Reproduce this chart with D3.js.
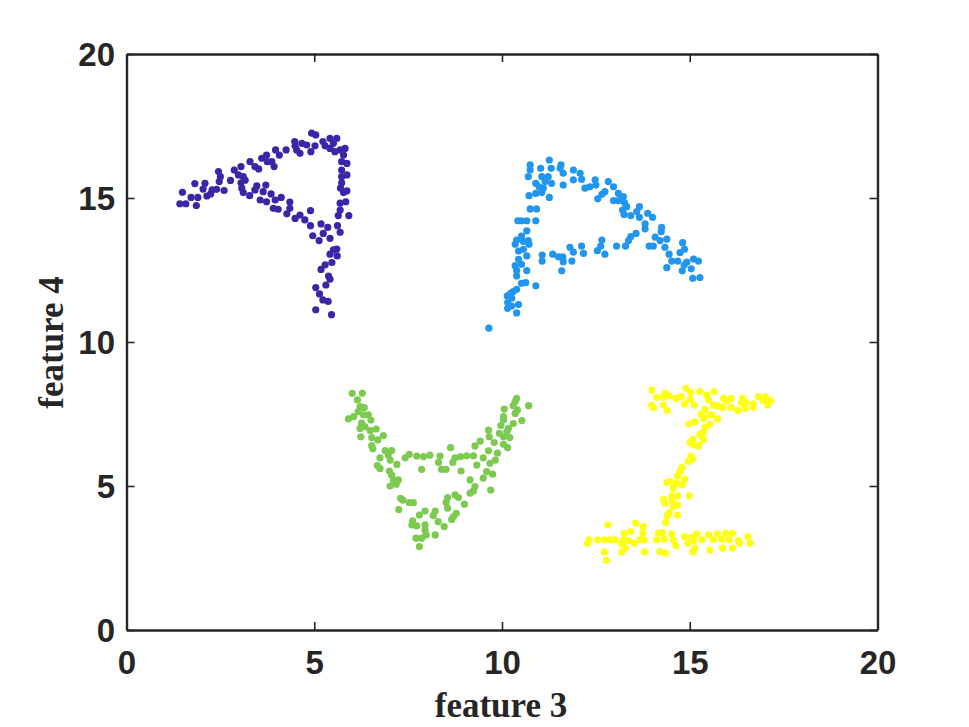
<!DOCTYPE html>
<html><head><meta charset="utf-8">
<script src="https://cdn.jsdelivr.net/npm/d3@7"></script>
<style>html,body{margin:0;padding:0;background:#fff;overflow:hidden}svg{display:block}</style>
</head><body><svg id="c" width="969" height="727"></svg>
<script>
const tickValues = [0,5,10,15,20];
const xLabel = "feature 3";
const yLabel = "feature 4";
const seriesColors = ["#3C25A7","#2196EE","#7CCB50","#FFFF14"];
const clusterA = [[1.49,15.2],[1.42,14.8],[1.58,14.8],[1.72,15.02],[1.9,15.02],[1.86,14.74],[1.82,15.5],[2.04,15.31],[2.09,15.51],[2.14,15.07],[2.24,15.14],[2.28,15.28],[2.4,15.3],[2.47,15.57],[2.45,15.92],[2.6,15.26],[2.5,15.74],[2.77,15.61],[2.87,15.97],[3.05,16.09],[2.98,15.8],[3.11,15.74],[3.16,15.62],[3.05,15.53],[3.07,15.34],[3.11,15.19],[3.28,15.08],[3.29,16.26],[3.42,16.09],[3.52,16.01],[3.6,16.38],[3.73,16.49],[3.75,16.26],[3.87,16.26],[3.93,16.09],[3.97,16.67],[4.07,16.49],[4.25,16.67],[4.48,16.96],[4.49,16.81],[4.67,16.9],[4.53,16.67],[4.62,16.55],[4.8,16.84],[4.91,16.61],[5.02,16.81],[4.93,17.25],[5.04,17.19],[5.23,16.96],[5.29,16.81],[5.42,17.07],[5.6,17.07],[5.51,16.9],[5.42,16.72],[5.55,16.61],[5.69,16.67],[5.82,16.72],[5.78,16.49],[5.73,16.26],[5.87,16.2],[5.73,15.97],[5.87,15.8],[5.73,15.74],[5.73,15.53],[5.7,15.34],[5.87,15.25],[5.78,15.19],[5.84,14.87],[5.69,14.82],[5.69,14.58],[5.64,14.39],[5.92,14.39],[3.47,15.42],[3.71,15.45],[3.42,15.28],[3.64,15.22],[3.85,15.14],[3.56,14.93],[3.73,14.87],[3.96,14.93],[4.12,15.02],[3.91,14.64],[4.04,14.61],[4.35,14.86],[4.35,14.64],[4.27,14.45],[4.49,14.29],[4.62,14.41],[4.75,14.24],[4.9,14.56],[4.9,14.04],[5.18,14.1],[5.36,13.98],[5.24,13.77],[4.96,13.69],[5.13,13.52],[5.42,13.6],[5.62,14.04],[5.69,13.81],[5.6,13.23],[5.51,13.2],[5.42,13.05],[5.61,12.99],[5.47,12.76],[5.29,12.68],[5.18,12.52],[5.38,12.29],[5.42,12.18],[5.31,11.98],[5.04,11.89],[5.14,11.67],[5.23,11.46],[5.37,11.41],[5.04,11.12],[5.46,10.95]];
const clusterB = [[9.65,10.48],[10.39,11.01],[10.15,11.17],[10.44,11.3],[10.26,11.25],[10.15,11.37],[10.14,11.6],[10.23,11.69],[10.3,11.75],[10.26,11.52],[10.39,11.83],[10.52,12.04],[10.63,12.06],[10.9,11.95],[10.39,12.29],[10.39,12.48],[10.35,12.65],[10.52,12.7],[10.66,12.48],[10.44,12.87],[10.66,12.99],[10.44,13.16],[10.57,13.22],[10.35,13.39],[10.39,13.54],[10.57,13.49],[10.72,13.39],[10.7,13.52],[10.52,13.68],[10.66,13.86],[10.42,14.21],[10.52,14.21],[10.66,14.21],[10.9,14.21],[10.75,14.62],[10.92,14.62],[10.72,15.08],[10.9,15.16],[11.06,15.19],[11.26,15.02],[10.9,15.51],[10.99,15.39],[11.1,15.34],[11.06,15.74],[11.15,15.57],[10.7,15.74],[10.75,15.97],[10.75,16.15],[11.03,16.03],[11.31,16.03],[11.26,16.32],[11.23,15.74],[11.32,15.51],[11.57,16.15],[11.55,16.03],[11.63,15.86],[11.63,15.45],[11.9,15.97],[11.9,15.63],[12.08,15.86],[12.12,15.65],[12.21,15.34],[12.34,15.39],[12.48,15.63],[12.5,15.45],[12.83,15.57],[12.97,15.39],[12.74,15.22],[12.66,15.13],[12.55,14.97],[13.1,15.16],[13.23,15.05],[12.97,14.91],[13.1,14.91],[13.26,14.84],[13.32,14.7],[13.21,14.58],[13.25,14.43],[13.43,14.39],[13.59,14.53],[13.66,14.7],[13.66,14.33],[13.88,14.47],[14.01,14.33],[13.81,14.1],[13.81,13.93],[14.25,13.98],[14.24,13.83],[13.57,13.77],[13.43,13.66],[13.37,13.52],[13.29,13.33],[13.05,13.33],[14.08,13.64],[14.21,13.52],[14.39,13.57],[13.92,13.33],[14.03,13.33],[14.34,13.29],[14.45,13.05],[14.52,12.81],[14.68,12.81],[14.81,13.45],[14.86,13.22],[14.74,13.1],[14.92,12.77],[14.85,12.67],[14.39,12.58],[15.04,12.54],[14.8,12.47],[15.1,12.88],[15.23,12.81],[15.08,12.21],[15.27,12.24],[11.07,13.02],[11.07,12.81],[11.35,13.05],[11.5,12.96],[11.62,12.96],[11.63,12.79],[11.59,12.47],[11.81,13.29],[11.9,13.12],[11.86,12.81],[12.12,13.33],[12.17,13.08],[12.54,13.17],[12.66,13.54],[12.63,13.33],[12.74,13.05]];
const clusterC = [[6.01,8.22],[6.28,8.22],[6.15,7.99],[6.22,7.76],[6.33,7.72],[6.17,7.58],[5.91,7.33],[6.05,7.41],[6.31,7.47],[6.44,7.47],[6.51,7.29],[6.26,7.18],[6.22,7.0],[6.35,7.06],[6.65,6.98],[6.49,6.92],[6.24,6.71],[6.53,6.68],[6.84,6.75],[6.69,6.6],[6.53,6.4],[6.56,6.29],[6.89,6.23],[7.06,6.23],[6.97,6.08],[6.75,5.98],[7.02,5.9],[7.2,5.75],[6.68,5.71],[6.75,5.61],[7.0,5.52],[7.06,5.38],[7.24,5.21],[7.11,5.21],[7.18,5.06],[7.02,5.0],[7.3,4.57],[7.36,4.51],[7.53,4.42],[7.64,4.42],[7.25,4.18],[7.42,5.98],[7.53,6.1],[7.73,6.04],[7.91,6.02],[8.08,6.07],[8.35,6.04],[8.31,5.82],[7.86,5.58],[8.39,5.58],[8.51,5.58],[8.63,6.33],[8.69,5.82],[8.75,5.98],[8.9,6.02],[9.06,6.05],[9.24,6.05],[8.91,5.52],[9.15,5.21],[9.28,6.39],[9.42,6.56],[9.64,6.94],[9.66,6.71],[9.79,6.51],[9.33,5.73],[9.5,5.98],[9.64,6.22],[9.88,6.14],[9.82,5.9],[9.68,5.79],[9.59,5.5],[9.75,5.41],[9.5,5.27],[9.28,4.98],[9.24,4.83],[9.15,4.75],[9.7,4.86],[8.75,4.69],[8.55,4.6],[8.84,4.6],[8.51,4.43],[8.55,4.23],[9.0,4.37],[8.78,4.05],[8.71,3.94],[8.66,3.84],[8.22,4.13],[8.17,3.97],[8.3,3.76],[8.46,3.59],[7.95,4.13],[7.8,3.99],[7.62,3.79],[7.6,3.65],[7.73,3.62],[7.95,3.65],[7.95,3.47],[7.98,3.3],[8.22,3.3],[7.71,3.19],[7.86,3.19],[7.8,2.9],[10.39,8.04],[10.35,7.93],[10.3,7.79],[10.41,7.64],[10.06,7.67],[10.35,7.52],[10.71,7.79],[10.53,7.27],[10.3,7.17],[10.04,7.41],[10.04,7.29],[9.97,7.1],[10.17,7.0],[9.93,6.83],[10.04,6.71],[10.21,6.68],[10.13,6.89],[10.04,6.45],[10.15,6.33]];
const clusterD = [[13.99,8.33],[14.12,8.08],[13.99,7.81],[14.03,7.72],[14.3,7.81],[14.4,7.62],[14.34,8.22],[14.3,8.08],[14.45,8.13],[14.63,8.04],[14.77,8.1],[14.86,7.85],[14.9,8.39],[15.03,8.25],[15.01,8.01],[15.12,7.81],[15.27,8.28],[15.45,8.16],[15.65,8.28],[15.5,7.99],[15.63,7.81],[15.76,7.78],[15.9,8.04],[15.88,7.72],[16.1,8.04],[16.1,7.73],[16.28,7.62],[16.41,8.04],[16.47,7.7],[16.5,7.89],[16.69,7.85],[16.69,7.73],[16.83,8.1],[17.02,8.1],[16.96,7.96],[17.16,7.96],[17.07,7.81],[16.38,7.89],[15.98,7.96],[15.41,7.66],[15.3,7.5],[15.41,7.41],[15.58,7.47],[15.74,7.33],[15.36,7.35],[15.14,7.23],[14.98,7.15],[15.54,7.15],[15.41,7.04],[15.36,6.85],[15.27,6.79],[15.36,6.6],[15.08,6.62],[15.01,6.51],[15.12,6.43],[15.23,6.39],[15.03,6.04],[15.07,5.93],[14.96,5.85],[14.79,5.65],[14.74,5.5],[14.67,5.35],[14.86,5.24],[14.48,5.15],[14.39,5.12],[14.65,5.09],[14.8,5.04],[14.56,4.92],[14.52,4.66],[14.68,4.66],[14.99,4.66],[14.3,4.54],[14.34,4.4],[14.54,4.49],[14.56,4.29],[14.68,4.34],[14.45,4.08],[14.4,3.96],[14.67,3.99],[14.36,3.73],[12.32,3.13],[12.28,3.01],[12.55,3.13],[12.74,3.13],[12.88,3.13],[13.01,3.13],[12.82,3.65],[12.73,2.71],[12.78,2.42],[13.25,3.36],[13.43,3.42],[13.56,3.71],[13.76,3.59],[13.75,3.36],[13.23,3.13],[13.37,3.1],[13.19,2.99],[13.52,3.01],[13.68,3.13],[13.79,3.13],[13.29,2.84],[13.19,2.71],[13.79,2.71],[14.16,3.36],[14.27,3.38],[14.12,3.13],[14.32,3.15],[14.52,3.34],[14.56,3.13],[14.63,2.93],[14.86,3.24],[14.21,2.72],[14.36,2.67],[14.95,3.01],[15.05,3.22],[15.19,3.34],[15.1,3.1],[15.32,3.13],[15.14,2.84],[15.08,2.71],[15.5,3.3],[15.54,2.77],[15.63,3.13],[15.74,3.34],[15.85,3.15],[15.96,3.36],[16.05,3.13],[16.14,3.36],[15.87,2.84],[16.14,2.84],[16.3,3.1],[16.33,3.01],[16.55,3.24],[16.61,3.01]];
const clusters = [clusterA, clusterB, clusterC, clusterD];

const L = 126.5, R = 877.5, T = 54, B = 630;
const x = d3.scaleLinear().domain([0,20]).range([L,R]);
const y = d3.scaleLinear().domain([0,20]).range([B,T]);
const svg = d3.select("#c");
const ink = "#262626";

function style(g){
  g.select(".domain").attr("stroke",ink).attr("stroke-width",2.4);
  g.selectAll(".tick line").attr("stroke",ink).attr("stroke-width",1.6);
  g.selectAll("text").attr("fill",ink).style("font-family","'Liberation Sans',Arial,sans-serif").style("font-weight","bold").style("font-size","33px");
}
const tick = 8;
const gb = svg.append("g").attr("transform",`translate(0,${B})`).call(d3.axisBottom(x).tickValues(tickValues).tickSizeInner(-tick).tickSizeOuter(0).tickPadding(20.5));
const gl = svg.append("g").attr("transform",`translate(${L},0)`).call(d3.axisLeft(y).tickValues(tickValues).tickSizeInner(-tick).tickSizeOuter(0).tickPadding(11.5));
const gt = svg.append("g").attr("transform",`translate(0,${T})`).call(d3.axisTop(x).tickValues(tickValues).tickSizeInner(-tick).tickSizeOuter(0).tickFormat(""));
const gr = svg.append("g").attr("transform",`translate(${R},0)`).call(d3.axisRight(y).tickValues(tickValues).tickSizeInner(-tick).tickSizeOuter(0).tickFormat(""));
[gb,gl,gt,gr].forEach(g=>style(g));
gl.selectAll("text").attr("dy","0.36em");

clusters.forEach((pts,i)=>{
  svg.append("g").selectAll("circle").data(pts).join("circle")
    .attr("cx",d=>x(d[0])).attr("cy",d=>y(d[1])).attr("r",3.6).attr("fill",seriesColors[i]);
});

svg.append("text").attr("x",501).attr("y",717).attr("text-anchor","middle")
  .attr("fill",ink).style("font-family","'Liberation Serif','Times New Roman',serif").style("font-weight","bold").style("font-size","35px").text(xLabel);
svg.append("text").attr("transform","translate(63,342.5) rotate(-90)").attr("text-anchor","middle")
  .attr("fill",ink).style("font-family","'Liberation Serif','Times New Roman',serif").style("font-weight","bold").style("font-size","35px").text(yLabel);
</script></body></html>
